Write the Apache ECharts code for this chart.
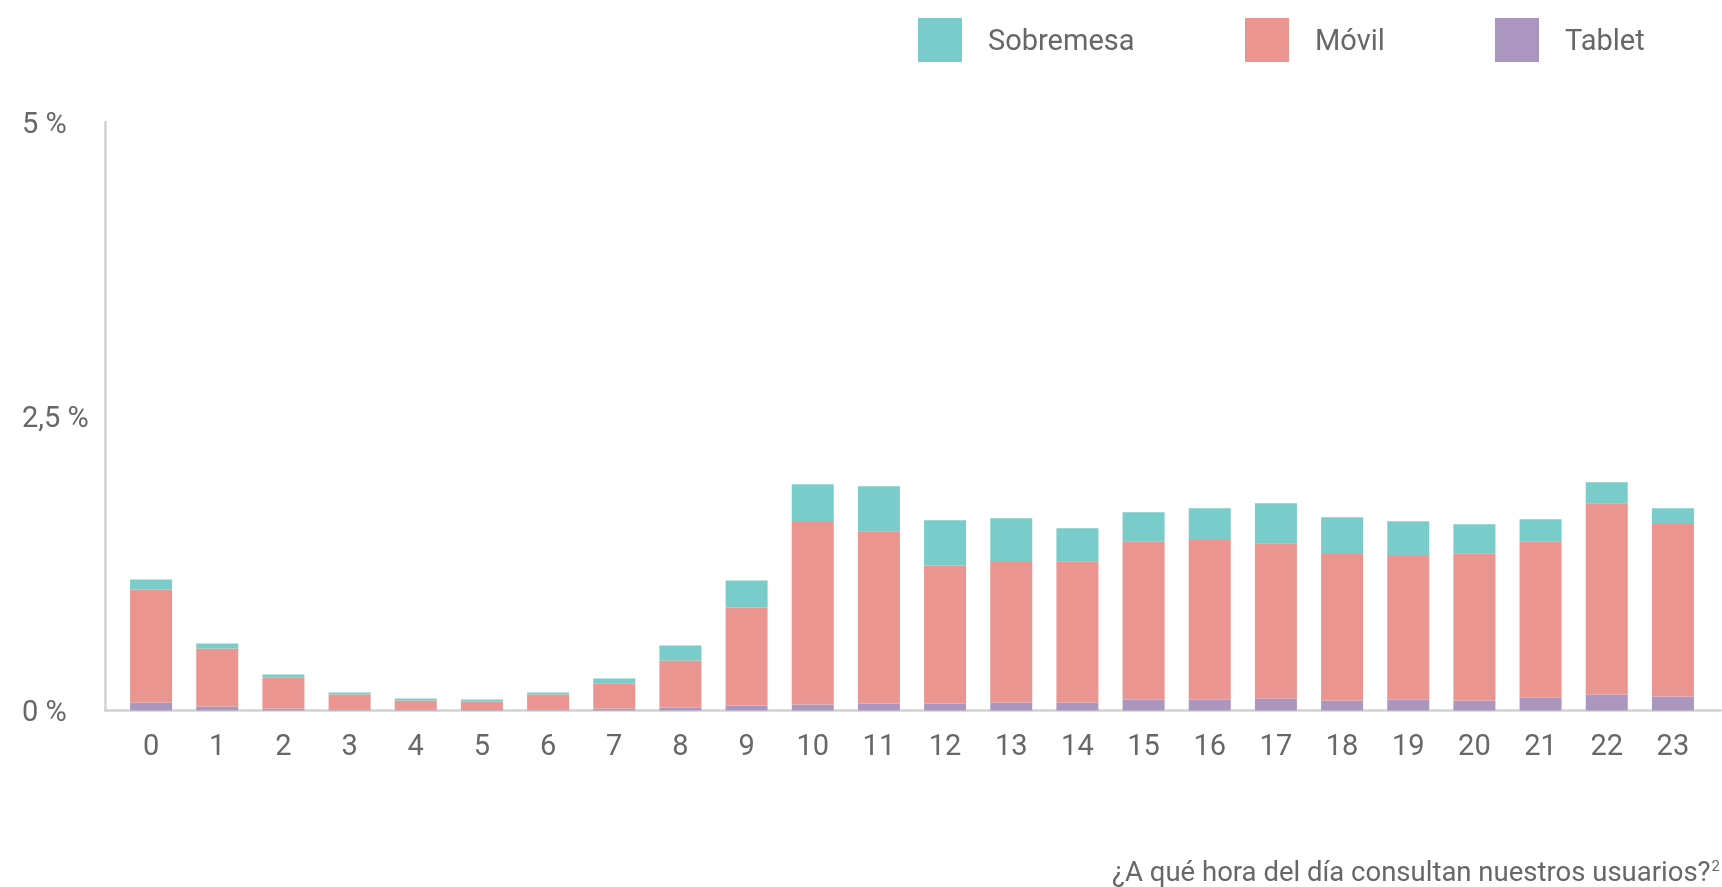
<!DOCTYPE html>
<html>
<head>
<meta charset="utf-8">
<title>¿A qué hora del día consultan nuestros usuarios?</title>
<script src="https://cdn.jsdelivr.net/npm/echarts@6/dist/echarts.min.js"></script>
<style>
  html, body { margin: 0; padding: 0; background: #ffffff; }
  #chart { width: 1722px; height: 887px; }
</style>
</head>
<body>
<div id="chart"></div>
<script>
// Hour of day (x categories)
const hours = ['0','1','2','3','4','5','6','7','8','9','10','11','12','13','14','15','16','17','18','19','20','21','22','23'];

// Share of visits per hour and device, in %
const tablet    = [0.068,0.034,0.017,0.009,0.009,0.005,0.009,0.017,0.026,0.043,0.051,0.060,0.060,0.068,0.068,0.094,0.094,0.102,0.085,0.094,0.085,0.111,0.136,0.119];
const movil     = [0.961,0.493,0.261,0.127,0.076,0.072,0.127,0.210,0.399,0.833,1.550,1.462,1.173,1.193,1.199,1.343,1.354,1.318,1.244,1.218,1.250,1.326,1.624,1.465];
const sobremesa = [0.085,0.043,0.028,0.017,0.017,0.017,0.017,0.045,0.128,0.229,0.321,0.383,0.383,0.372,0.281,0.247,0.270,0.340,0.312,0.295,0.247,0.187,0.179,0.134];

// Y tick labels
const yTicks = { 0: '0 %', 2.5: '2,5 %', 5: '5 %' };

const colors = { 'Sobremesa': '#7accca', 'Móvil': '#ea958f', 'Tablet': '#aa96be' };

const FONT = 'Roboto, "Noto Sans", sans-serif';
const TEXT = '#676767';
const AXIS = { color: '#d2d2d2', width: 2.5 };

const chart = echarts.init(document.getElementById('chart'), null, { renderer: 'canvas' });

function barSeries(name, values) {
  return {
    name: name,
    type: 'bar',
    stack: 'total',
    barWidth: 42,
    xAxisIndex: 0,
    yAxisIndex: 0,
    itemStyle: { color: colors[name] },
    emphasis: { disabled: true },
    data: values
  };
}

function legendFor(name, left) {
  return {
    data: [name],
    left: left,
    top: 18,
    padding: 0,
    icon: 'rect',
    itemWidth: 44,
    itemHeight: 44,
    selectedMode: false,
    formatter: n => '{t|' + n + '}',
    textStyle: {
      rich: {
        t: { fontFamily: FONT, fontSize: 29, color: TEXT, padding: [5, 0, 0, 21] }
      }
    }
  };
}

chart.setOption({
  backgroundColor: '#ffffff',
  animation: false,
  legend: [
    legendFor('Sobremesa', 918),
    legendFor('Móvil', 1245),
    legendFor('Tablet', 1495)
  ],
  title: {
    text: '{a|¿A qué hora del día consultan nuestros usuarios?}{s|2}',
    right: 2,
    top: 858,
    padding: 0,
    textStyle: {
      rich: {
        a: { fontFamily: FONT, fontSize: 27.5, fontWeight: 'normal', color: TEXT, lineHeight: 32 },
        s: { fontFamily: FONT, fontSize: 15, fontWeight: 'normal', color: TEXT, lineHeight: 32, padding: [0, 0, 14, 1] }
      }
    }
  },
  grid: [
    // bars
    { left: 118, right: 16, top: 122, bottom: 176.5 },
    // frame carrying the full-width baseline
    { left: 105, right: 1, top: 122, bottom: 176.5 }
  ],
  xAxis: [
    {
      type: 'category',
      gridIndex: 0,
      data: hours,
      axisLine: { show: false },
      axisTick: { show: false },
      splitLine: { show: false },
      axisLabel: { margin: 23, fontFamily: FONT, fontSize: 29, color: TEXT }
    },
    {
      type: 'value',
      gridIndex: 1,
      min: 0,
      max: 1,
      axisLine: { show: true, lineStyle: AXIS },
      axisTick: { show: false },
      axisLabel: { show: false },
      splitLine: { show: false }
    }
  ],
  yAxis: [
    {
      type: 'value',
      gridIndex: 0,
      min: 0,
      max: 5,
      interval: 2.5,
      offset: 13,
      axisLine: { show: true, lineStyle: AXIS },
      axisTick: { show: false },
      splitLine: { show: false },
      axisLabel: {
        formatter: v => '{v|' + yTicks[v] + '}',
        align: 'left',
        margin: 83,
        rich: {
          v: { fontFamily: FONT, fontSize: 29, color: TEXT, padding: [7, 0, 0, 0] }
        }
      }
    },
    {
      type: 'value',
      gridIndex: 1,
      min: 0,
      max: 5,
      show: false
    }
  ],
  series: [
    barSeries('Tablet', tablet),
    barSeries('Móvil', movil),
    barSeries('Sobremesa', sobremesa)
  ]
});
</script>
</body>
</html>
